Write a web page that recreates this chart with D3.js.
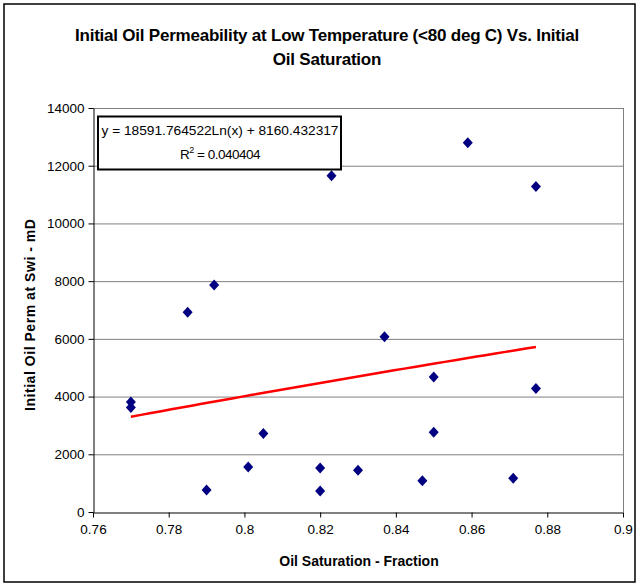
<!DOCTYPE html>
<html><head><meta charset="utf-8">
<script src="https://cdn.jsdelivr.net/npm/d3@7"></script>
<style>body{margin:0;background:#fff}svg{display:block;font-family:"Liberation Sans",Arial,sans-serif}</style>
</head><body><svg id="c" width="639" height="586"></svg>
<script>
const saturation = [0.859,0.823,0.877,0.792,0.785,0.837,0.770,0.770,0.850,0.877,0.805,0.850,0.801,0.820,0.830,0.790,0.820,0.847,0.871];
const permeability = [12800,11650,11280,7870,6920,6070,3815,3618,4680,4280,2717,2760,1560,1525,1445,763,728,1087,1168];
const xTicks = [0.76,0.78,0.8,0.82,0.84,0.86,0.88,0.9];
const yTicks = [0,2000,4000,6000,8000,10000,12000,14000];
const trendCoef = [18591.764522, 8160.432317];
const titleLines = ["Initial Oil Permeability at Low Temperature (<80 deg C) Vs. Initial","Oil Saturation"];

const svg = d3.select("#c");
const L=93,R=623,T=108,B=512;
const x = d3.scaleLinear().domain([0.76,0.9]).range([L,R]);
const y = d3.scaleLinear().domain([0,14000]).range([B,T]);

svg.append("rect").attr("x",4).attr("y",4).attr("width",631).attr("height",578)
  .attr("fill","#fff").attr("stroke","#000").attr("stroke-width",1.5);

// gridlines
svg.append("g").selectAll("line").data(yTicks.filter(d=>d>0)).join("line")
  .attr("x1",L).attr("x2",R).attr("y1",d=>y(d)+0.5).attr("y2",d=>y(d)+0.5)
  .attr("stroke","#808080").attr("stroke-width",1);
svg.append("line").attr("x1",R+0.5).attr("x2",R+0.5).attr("y1",T).attr("y2",B)
  .attr("stroke","#808080");

// axes
const xa = svg.append("g").attr("transform",`translate(0,${B+0.5})`)
  .call(d3.axisBottom(x).tickValues(xTicks).tickFormat(d=>String(+d.toFixed(2))).tickSizeOuter(0).tickSizeInner(5).tickPadding(7));
const ya = svg.append("g").attr("transform",`translate(${L+0.5},0)`)
  .call(d3.axisLeft(y).tickValues(yTicks).tickFormat(d=>String(d)).tickSizeOuter(0).tickSizeInner(5).tickPadding(4));
[xa,ya].forEach(g=>{
  g.selectAll("text").attr("font-size",13.5).attr("fill","#000").attr("font-family","Liberation Sans, Arial");
  g.selectAll("path,line").attr("stroke","#000");
});

// trendline
const tx = d3.range(0,41).map(i=>d3.min(saturation)+(d3.max(saturation)-d3.min(saturation))*i/40);
svg.append("path").datum(tx)
  .attr("d",d3.line().x(d=>x(d)).y(d=>y(trendCoef[0]*Math.log(d)+trendCoef[1])))
  .attr("fill","none").attr("stroke","#ff0000").attr("stroke-width",2.5);

// points
svg.append("g").selectAll("path").data(saturation.map((s,i)=>[s,permeability[i]])).join("path")
  .attr("transform",d=>`translate(${x(d[0])},${y(d[1])})`)
  .attr("d","M0,-5.5L5,0L0,5.5L-5,0Z").attr("fill","#000080");

// equation box
svg.append("rect").attr("x",98).attr("y",116.5).attr("width",243).attr("height",53)
  .attr("fill","#fff").attr("stroke","#000").attr("stroke-width",2);
svg.append("text").attr("x",220).attr("y",135).attr("text-anchor","middle").attr("font-size",13.5)
  .attr("textLength",237).attr("lengthAdjust","spacingAndGlyphs")
  .text(`y = ${trendCoef[0].toFixed(6)}Ln(x) + ${trendCoef[1].toFixed(6)}`);
const r2 = svg.append("text").attr("x",220).attr("y",159).attr("text-anchor","middle").attr("font-size",13.5).attr("letter-spacing",-0.5);
r2.append("tspan").text("R");
r2.append("tspan").attr("font-size",9).attr("dy",-6).text("2");
r2.append("tspan").attr("dy",6).text(" = 0.040404");

// title
svg.append("g").selectAll("text").data(titleLines).join("text")
  .attr("x",327).attr("y",(d,i)=>41+i*24).attr("text-anchor","middle")
  .attr("font-size",17).attr("font-weight","bold").attr("letter-spacing",-0.22).text(d=>d);

svg.append("text").attr("x",(L+R)/2+1).attr("y",566).attr("text-anchor","middle")
  .attr("font-size",14).attr("font-weight","bold").text("Oil Saturation - Fraction");
svg.append("text").attr("transform",`translate(35,${(T+B)/2+5}) rotate(-90)`).attr("text-anchor","middle")
  .attr("font-size",14).attr("font-weight","bold").attr("textLength",192).attr("lengthAdjust","spacing")
  .text("Initial Oil  Perm at Swi - mD");
</script></body></html>
